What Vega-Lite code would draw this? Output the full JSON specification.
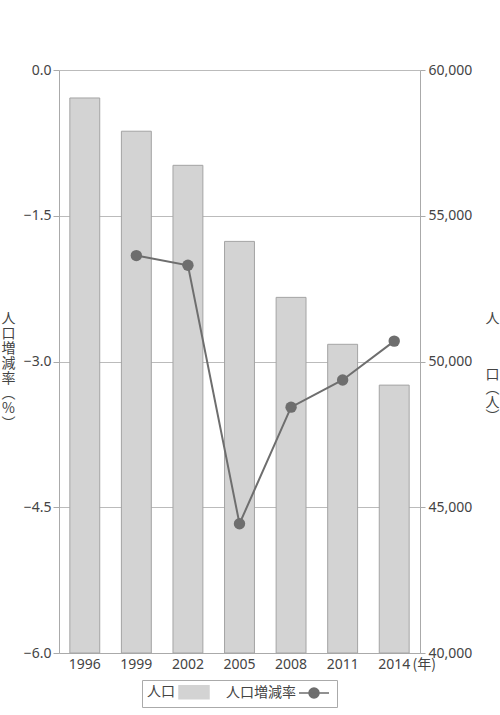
{
  "$schema": "https://vega.github.io/schema/vega-lite/v6.json",
  "width": 361,
  "height": 583,
  "autosize": "none",
  "padding": {"left": 59, "top": 70, "right": 80, "bottom": 62},
  "background": "white",
  "data": {
    "values": [
      {"year": "1996", "population": 59040, "rate": null},
      {"year": "1999", "population": 57900, "rate": -1.91},
      {"year": "2002", "population": 56730, "rate": -2.01},
      {"year": "2005", "population": 54120, "rate": -4.67},
      {"year": "2008", "population": 52200, "rate": -3.47},
      {"year": "2011", "population": 50590, "rate": -3.19},
      {"year": "2014", "population": 49190, "rate": -2.79}
    ]
  },
  "config": {
    "view": {"stroke": null},
    "font": "Noto Sans, Noto Sans CJK JP",
    "axis": {
      "labelFont": "Noto Sans, Noto Sans CJK JP",
      "titleFont": "Noto Sans CJK JP",
      "labelFontSize": 14,
      "labelColor": "#444",
      "titleColor": "#444",
      "titleFontSize": 14,
      "titleFontWeight": "normal",
      "domainColor": "#aaa",
      "tickColor": "#aaa",
      "gridColor": "#bbb"
    },
    "legend": {
      "layout": {"bottom": {"anchor": "middle"}}
    }
  },
  "encoding": {
    "x": {
      "field": "year",
      "type": "ordinal",
      "scale": {"paddingInner": 0.42, "paddingOuter": 0.21},
      "axis": {
        "labelAngle": 0,
        "ticks": false,
        "domain": true,
        "labelPadding": 4,
        "title": "(年)",
        "titleAlign": "left",
        "titleBaseline": "top",
        "titleX": 353,
        "titleY": 4,
        "titleAnchor": "start"
      }
    }
  },
  "layer": [
    {
      "mark": {"type": "bar", "stroke": "#a4a4a4", "strokeWidth": 1},
      "encoding": {
        "y": {
          "field": "population",
          "type": "quantitative",
          "scale": {"domain": [40000, 60000], "zero": false, "nice": false},
          "axis": {
            "orient": "right",
            "values": [40000, 45000, 50000, 55000, 60000],
            "format": ",d",
            "grid": false,
            "tickSize": 5,
            "labelPadding": 3,
            "title": ["人", "\u2800", "\u2800", "\u2800", "口", "︵", "人", "︶"],
            "titleAngle": 0,
            "titleAlign": "center",
            "titleBaseline": "top",
            "titleLineHeight": 14,
            "titleX": 72,
            "titleY": 241
          }
        },
        "y2": {"datum": 40000},
        "color": {
          "datum": "人口",
          "scale": {"domain": ["人口", "人口増減率"], "range": ["#d3d3d3", "#6e6e6e"]},
          "legend": {
            "title": null,
            "orient": "bottom",
            "direction": "horizontal",
            "strokeColor": "#aaa",
            "padding": 5,
            "offset": 9,
            "symbolSize": 100,
            "labelFontSize": 14,
            "labelColor": "#444",
            "labelFont": "Noto Sans CJK JP",
            "columnPadding": 14,
            "encode": {
              "symbols": {
                "update": {
                  "shape": [{"test": "datum.value == '人口'", "value": "M-3,-1.3H3V1.3H-3Z"}, {"value": "M-3,0H3M-1,0A1,1 0 1,0 1,0A1,1 0 1,0 -1,0"}],
                  "fill": [{"test": "datum.value == '人口'", "value": "#d3d3d3"}, {"value": "#6e6e6e"}],
                  "stroke": [{"test": "datum.value == '人口'", "value": "#b4b4b4"}, {"value": "#6e6e6e"}],
                  "strokeWidth": {"value": 1.5},
                  "opacity": {"value": 1},
                  "x": [{"test": "datum.value == '人口'", "value": 47}, {"value": 88}]
                }
              },
              "labels": {
                "update": {"x": {"value": 0}}
              }
            }
          }
        }
      }
    },
    {
      "mark": {"type": "line", "strokeWidth": 2, "point": {"filled": true, "size": 130}},
      "encoding": {
        "y": {
          "field": "rate",
          "type": "quantitative",
          "scale": {"domain": [-6, 0], "nice": false},
          "axis": {
            "orient": "left",
            "values": [-6, -4.5, -3, -1.5, 0],
            "format": ".1f",
            "grid": true,
            "tickSize": 6,
            "labelPadding": 2,
            "title": ["人", "口", "増", "減", "率", "︵", "%", "︶"],
            "titleAngle": 0,
            "titleAlign": "center",
            "titleBaseline": "top",
            "titleLineHeight": 15,
            "titleX": -51,
            "titleY": 241
          }
        },
        "color": {
          "datum": "人口増減率",
          "legend": {
            "title": null,
            "orient": "bottom",
            "direction": "horizontal",
            "strokeColor": "#aaa",
            "padding": 5,
            "offset": 9,
            "symbolSize": 100,
            "labelFontSize": 14,
            "labelColor": "#444",
            "labelFont": "Noto Sans CJK JP",
            "columnPadding": 14,
            "encode": {
              "symbols": {
                "update": {
                  "shape": [{"test": "datum.value == '人口'", "value": "M-3,-1.3H3V1.3H-3Z"}, {"value": "M-3,0H3M-1,0A1,1 0 1,0 1,0A1,1 0 1,0 -1,0"}],
                  "fill": [{"test": "datum.value == '人口'", "value": "#d3d3d3"}, {"value": "#6e6e6e"}],
                  "stroke": [{"test": "datum.value == '人口'", "value": "#b4b4b4"}, {"value": "#6e6e6e"}],
                  "strokeWidth": {"value": 1.5},
                  "opacity": {"value": 1},
                  "x": [{"test": "datum.value == '人口'", "value": 47}, {"value": 88}]
                }
              },
              "labels": {
                "update": {"x": {"value": 0}}
              }
            }
          }
        }
      }
    }
  ],
  "resolve": {"scale": {"y": "independent"}}
}
